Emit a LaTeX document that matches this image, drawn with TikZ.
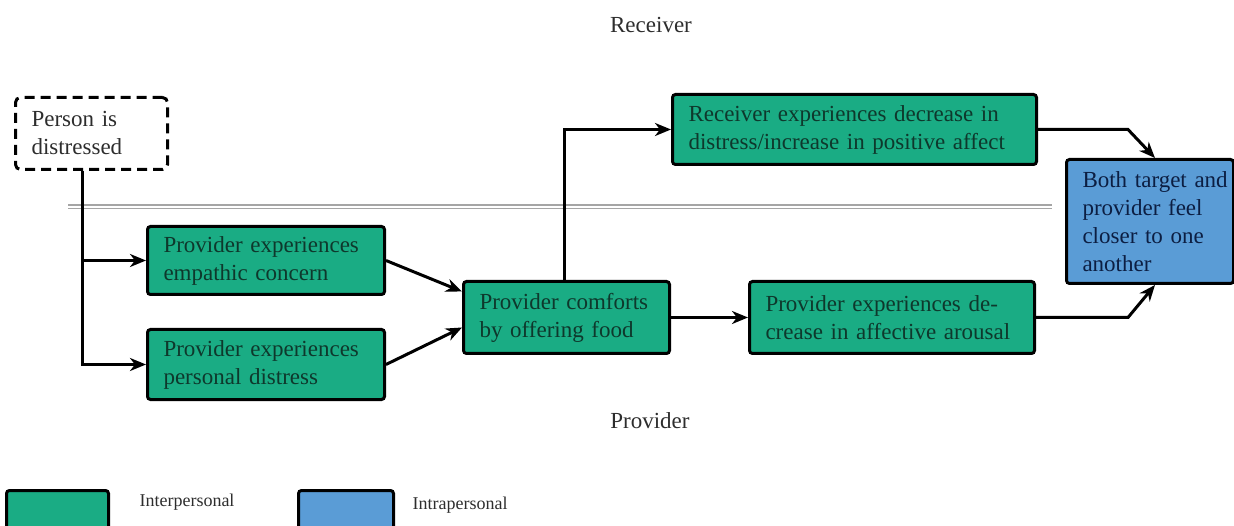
\documentclass[tikz,border=0pt]{standalone}
\usepackage{fontspec}
\setmainfont{Liberation Serif}
\usetikzlibrary{arrows.meta}
\definecolor{boxgreen}{RGB}{26,172,132}
\definecolor{boxblue}{RGB}{90,156,214}
\definecolor{gtext}{RGB}{14,56,44}
\definecolor{btext}{RGB}{12,30,66}
\definecolor{sepgray}{RGB}{165,165,165}
\definecolor{labgray}{RGB}{45,45,45}
\begin{document}
\begin{tikzpicture}[x=1pt,y=-1pt,
  box/.style={draw=black, line width=3pt, rounded corners=3pt, anchor=north west,
    inner xsep=16pt, inner ysep=0pt, align=left,
    font=\fontsize{23}{28}\selectfont},
  gbox/.style={box, fill=boxgreen, text=gtext},
  bbox/.style={box, fill=boxblue, text=btext},
  dbox/.style={box, fill=white, text=labgray, dash pattern=on 10pt off 6pt, rounded corners=5pt},
  arr/.style={draw=black, line width=3pt, -{Stealth[length=16pt,width=13pt,inset=5pt]}},
  lab/.style={text=labgray, font=\fontsize{23}{28}\selectfont},
  leglab/.style={text=labgray, anchor=west, font=\fontsize{18}{22}\selectfont},
  legbox/.style={draw=black, line width=3pt, rounded corners=3pt, anchor=north west,
    minimum width=#1pt, minimum height=60pt, inner sep=0pt},
]
\useasboundingbox (0,0) rectangle (1234,526);
\clip (0,0) rectangle (1234,526);

% lane labels
\node[lab] (rlab) at (651,25) {Receiver};
\node[lab] (plab) at (650,421) {Provider};

% separator
\draw[draw=sepgray, line width=1.3pt, double=white, double distance=2.4pt] (68,207) -- (1052,207);

% boxes
\node[dbox, minimum width=152pt, minimum height=72pt, text width=120pt] (person) at (14,96)
  {Person is\\distressed};
\node[gbox, minimum width=237pt, minimum height=68pt, text width=205pt] (emp) at (146,225)
  {Provider experiences\\empathic concern};
\node[gbox, minimum width=237pt, minimum height=70pt, text width=205pt] (pers) at (146,328)
  {Provider experiences\\personal distress};
\node[gbox, minimum width=206pt, minimum height=72pt, text width=174pt] (comf) at (462,280)
  {Provider comforts\\by offering food};
\node[gbox, minimum width=364pt, minimum height=70pt, text width=332pt] (recv) at (671,93)
  {Receiver experiences decrease in\\distress/increase in positive affect};
\node[gbox, minimum width=285pt, minimum height=72pt, text width=253pt] (decr) at (748,280)
  {Provider experiences de-\\crease in affective arousal};
\node[bbox, minimum width=167pt, minimum height=124pt, text width=135pt] (both) at (1065,158)
  {\mbox{Both target and}\\\mbox{provider feel}\\\mbox{closer to one}\\\mbox{another}};

% connectors
\coordinate (jx) at (82,0);
\coordinate (kx) at (1128,0);
\draw[arr] (person.south -| jx) |- (pers.west);
\draw[arr] (jx |- emp.west) -- (emp.west);
\draw[arr] (emp.east) -- ([yshift=26pt]comf.west);
\draw[arr] (pers.east) -- ([yshift=-10pt]comf.west);
\draw[arr] ([xshift=-2pt]comf.north) |- (recv.west);
\draw[arr] (comf.east) -- (decr.west);
\draw[arr] (recv.east) -- (recv.east -| kx) -- ([xshift=5pt]both.north);
\draw[arr] (decr.east) -- (decr.east -| kx) -- ([xshift=5pt]both.south);

% legend
\node[legbox=102, fill=boxgreen] (leg1) at (5,489) {};
\node[leglab] (leg1t) at (136,502) {Interpersonal};
\node[legbox=95, fill=boxblue] (leg2) at (297,489) {};
\node[leglab] (leg2t) at (409,505) {Intrapersonal};
\end{tikzpicture}
\end{document}
